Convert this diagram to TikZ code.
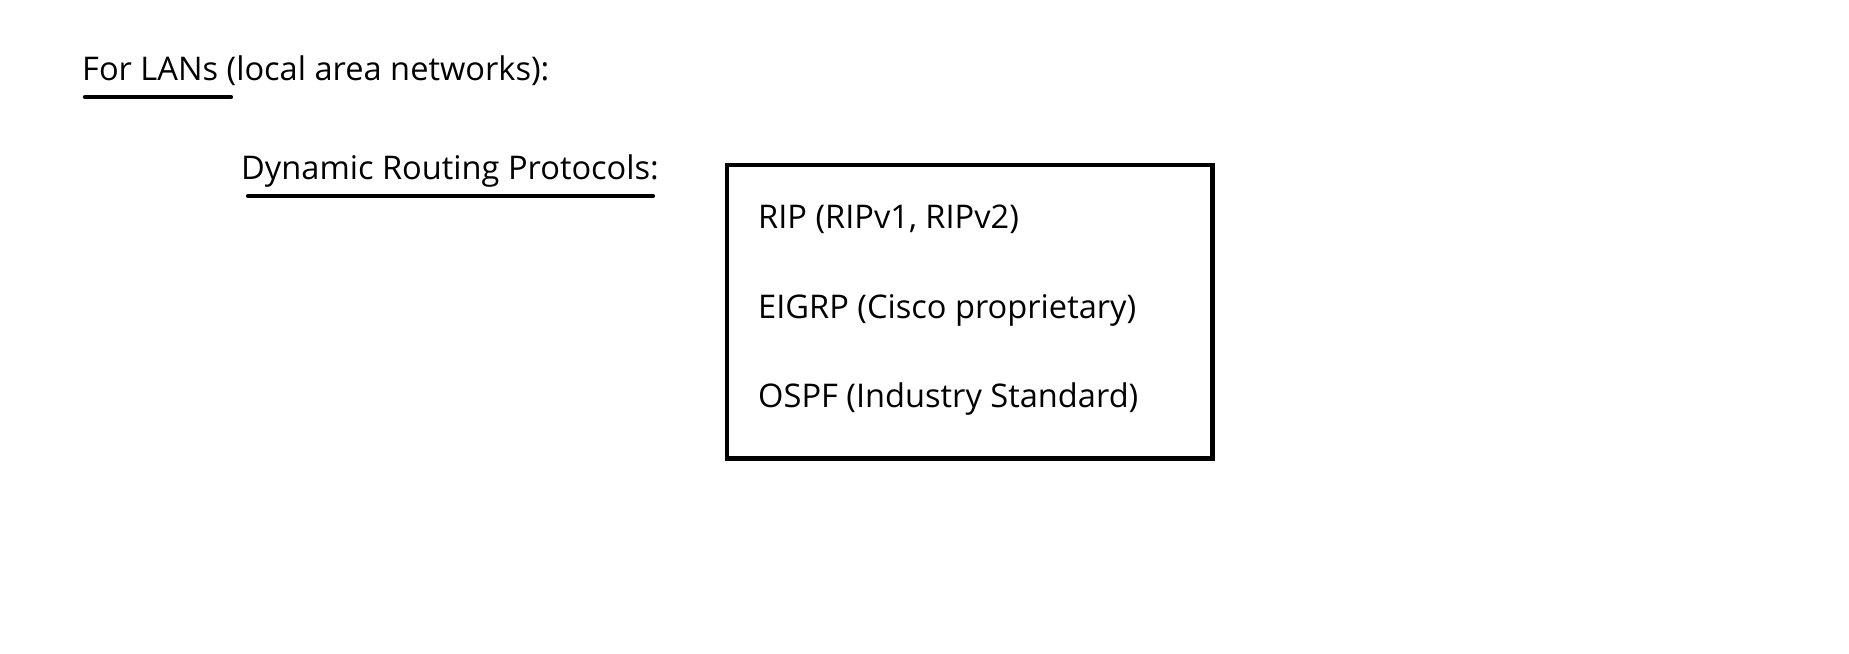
\documentclass[tikz,border=0pt]{standalone}
\usepackage{fontspec}
\setmainfont{Open Sans}
\usetikzlibrary{positioning}

\tikzset{
  label/.style={anchor=base west, inner sep=0pt},
  underline/.style={line width=4.2pt, line cap=round},
  listbox/.style={draw, line width=4.7pt, minimum width=485.5pt, minimum height=293.5pt, anchor=north west, inner sep=0pt, outer sep=0pt}
}

\begin{document}
\begin{tikzpicture}[x=1pt, y=-1pt, font=\fontsize{32.6}{38}\selectfont]
\useasboundingbox (0,0) rectangle (1849,653);

% Titulos
\node[label] (lans) at (82,80) {For LANs (local area networks):};
\node[label] (dyn) at (241,179) {Dynamic Routing Protocols:};

% Subrayados
\coordinate (u1a) at (85,97);
\coordinate (u1b) at (231,97);
\coordinate (u2a) at (248,196);
\coordinate (u2b) at (653,196);
\draw[underline] (u1a) -- (u1b);
\draw[underline] (u2a) -- (u2b);

% Caja de protocolos
\node[listbox] (box) at (727,165) {};
\node[label] (rip) at (758,228) {RIP (RIPv1, RIPv2)};
\node[label] (eigrp) at (758,318) {EIGRP (Cisco proprietary)};
\node[label] (ospf) at (758,407) {OSPF (Industry Standard)};

\end{tikzpicture}
\end{document}
